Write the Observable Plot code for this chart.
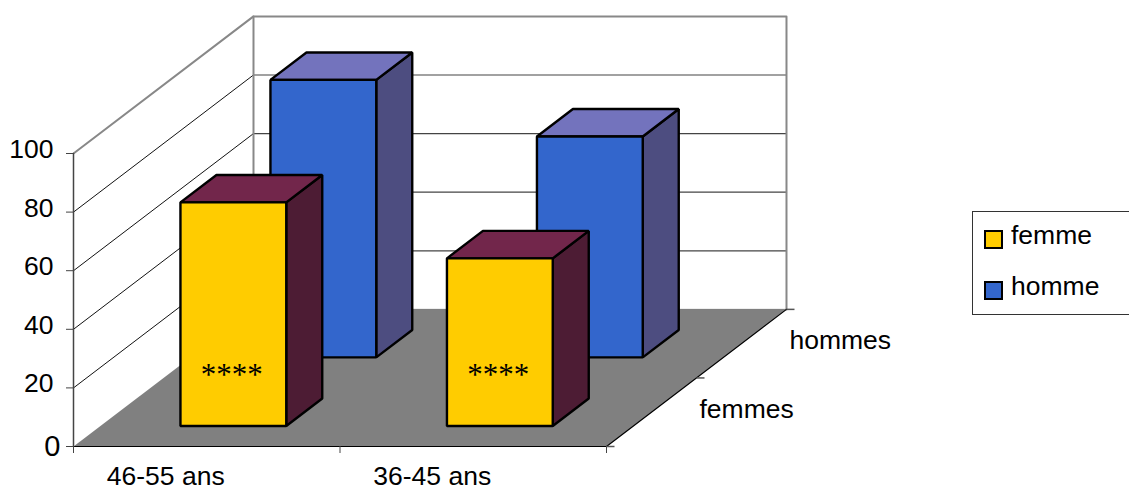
<!DOCTYPE html>
<html lang="fr">
<head>
<meta charset="utf-8">
<script src="https://cdn.jsdelivr.net/npm/d3@7"></script>
<script src="https://cdn.jsdelivr.net/npm/@observablehq/plot@0.6"></script>
<style>
  html, body { margin: 0; background: #fff; }
  #chart { position: relative; width: 1129px; height: 487px; overflow: hidden; font-family: "Liberation Sans", Arial, sans-serif; }
  #legend { position: absolute; left: 972px; top: 211px; width: 170px; height: 102px; border: 1px solid #333; box-sizing: content-box; }
  #legend .row { position: absolute; left: 11px; display: flex; align-items: center; font-size: 26.5px; color: #000; }
  #legend .swatch { width: 15px; height: 15px; border: 2px solid #000; margin-right: 8px; position: relative; top: 4px; }
</style>
</head>
<body>
<div id="chart"></div>
<script>
// Survey results by age group, shown as a 3D column chart.
const ageGroups = ["46-55 ans", "36-45 ans"];
const depthLabels = ["femmes", "hommes"];
const seriesNames = ["femme", "homme"];
const femmeValues = [76.3, 57.2];
const hommeValues = [94.7, 75.4];
const barNotes = ["****", "****"];
const valueTicks = [0, 20, 40, 60, 80, 100];

const seriesColors = {
  femme: {front: "#FFCC00", top: "#72264B", side: "#4D1C34"},
  homme: {front: "#3366CC", top: "#7373BD", side: "#4D4D80"}
};

// Oblique projection: one step of depth shifts a point along x (category units) and y (value units).
const depthX = 0.3377;
const depthY = 23.4;
const maxU = ageGroups.length;
const maxD = depthLabels.length;
const maxV = 100;
const project = (u, d, v) => ({x: u + d * depthX, y: v + d * depthY});
const path = (...corners) => corners.map(([u, d, v]) => project(u, d, v));
const seg = (data, options) => Plot.line(data, {x: "x", y: "y", ...options});

// Faces of one column, drawn from back to front.
function column(cat, row, value, colors) {
  const [u0, u1] = [cat + 0.3, cat + 0.697];
  const [d0, d1] = [row + 0.3, row + 0.7];
  const face = (pts, fill) => seg(pts, {curve: "linear-closed", fill, stroke: "#000", strokeWidth: 2.4, strokeLinejoin: "miter"});
  return [
    face(path([u1, d0, 0], [u1, d1, 0], [u1, d1, value], [u1, d0, value]), colors.side),
    face(path([u0, d0, value], [u1, d0, value], [u1, d1, value], [u0, d1, value]), colors.top),
    face(path([u0, d0, 0], [u1, d0, 0], [u1, d0, value], [u0, d0, value]), colors.front)
  ];
}

const gridValues = valueTicks.filter((v) => v > 0 && v < maxV);
const tickLength = 7;
const noLabel = () => "";

const plot = Plot.plot({
  width: 1129,
  height: 487,
  marginLeft: 73,
  marginRight: 523,
  marginTop: 153,
  marginBottom: 41,
  x: {domain: [0, maxU], axis: null},
  y: {domain: [0, maxV], axis: null},
  style: {fontFamily: "'Liberation Sans', Arial, sans-serif", background: "transparent", color: "#000", overflow: "visible"},
  marks: [
    // Floor
    seg(path([0, 0, 0], [maxU, 0, 0], [maxU, maxD, 0], [0, maxD, 0]), {curve: "linear-closed", fill: "#808080"}),

    // Gridlines on the left and back walls
    ...gridValues.map((v) => seg(path([0, 0, v], [0, maxD, v]), {stroke: "#111", strokeWidth: 1})),
    ...gridValues.map((v) => seg(path([0, maxD, v], [maxU, maxD, v]), {stroke: "#444", strokeWidth: 1.2})),

    // Wall outline
    seg(path([0, 0, maxV], [0, maxD, maxV], [maxU, maxD, maxV], [maxU, maxD, 0]), {stroke: "#888", strokeWidth: 2}),
    seg(path([0, maxD, 0], [0, maxD, maxV]), {stroke: "#888", strokeWidth: 2}),

    // Floor edges
    seg(path([0, maxD, 0], [maxU, maxD, 0]), {stroke: "#777", strokeWidth: 1}),
    seg(path([0, 0, 0], [maxU, 0, 0], [maxU, maxD, 0]), {stroke: "#000", strokeWidth: 1.2}),
    seg(path([0, 0, 0], [0, 0, maxV]), {stroke: "#444", strokeWidth: 1.5}),

    // Axis ticks
    Plot.axisY(valueTicks, {anchor: "left", tickSize: tickLength, tickFormat: noLabel, label: null, stroke: "#444"}),
    Plot.axisX(d3.range(maxU + 1), {anchor: "bottom", tickSize: tickLength, tickFormat: noLabel, label: null, stroke: "#444"}),
    Plot.dot(d3.range(maxD + 1).map((d) => project(maxU, d, 0)), {x: "x", y: "y", symbol: {draw(c) { c.moveTo(0, 0); c.lineTo(8, 0); }}, stroke: "#555", r: 1}),

    // Value labels
    Plot.text(valueTicks.filter((v) => v > 0), {y: (v) => v, frameAnchor: "left", text: (v) => String(v), textAnchor: "end", dx: -20, dy: -4, fontSize: 26.5, fill: "#000"}),
    Plot.text(valueTicks.filter((v) => v === 0), {y: (v) => v, frameAnchor: "left", text: (v) => String(v), textAnchor: "end", dx: -13, dy: 0, fontSize: 29, fill: "#000"}),

    // Category labels under the front edge
    Plot.text(ageGroups, {x: (_, i) => i + 0.5, y: 0, text: (d) => d, dx: -41, dy: 30, fontSize: 26.5, fill: "#000"}),

    // Depth labels along the right edge of the floor
    Plot.text(depthLabels.map((label, i) => ({label, ...project(maxU, i + 0.5, 0)})), {x: "x", y: "y", text: "label", textAnchor: "start", dx: 48, dy: -3, fontSize: 26.5, fill: "#000"}),

    // Columns: back row first so the front row overlaps it
    ...hommeValues.flatMap((v, i) => column(i, 1, v, seriesColors.homme)),
    ...femmeValues.flatMap((v, i) => column(i, 0, v, seriesColors.femme)),

    // Notes on the front faces
    Plot.text(barNotes.map((note, i) => ({note, ...project(i + 0.5, 0.3, 17.5)})), {x: "x", y: "y", text: "note", dx: -2, fontFamily: "'Liberation Serif', serif", fontSize: 31, fill: "#000"})
  ]
});

const chart = document.getElementById("chart");
chart.append(plot);

// Legend box on the right, cut by the page edge
const legend = d3.select(chart).append("div").attr("id", "legend");
legend.selectAll("div.row").data(seriesNames).join("div")
  .attr("class", "row")
  .style("top", (_, i) => `${8 + i * 51}px`)
  .html((d) => `<span class="swatch" style="background:${seriesColors[d].front}"></span><span>${d}</span>`);
</script>
</body>
</html>
